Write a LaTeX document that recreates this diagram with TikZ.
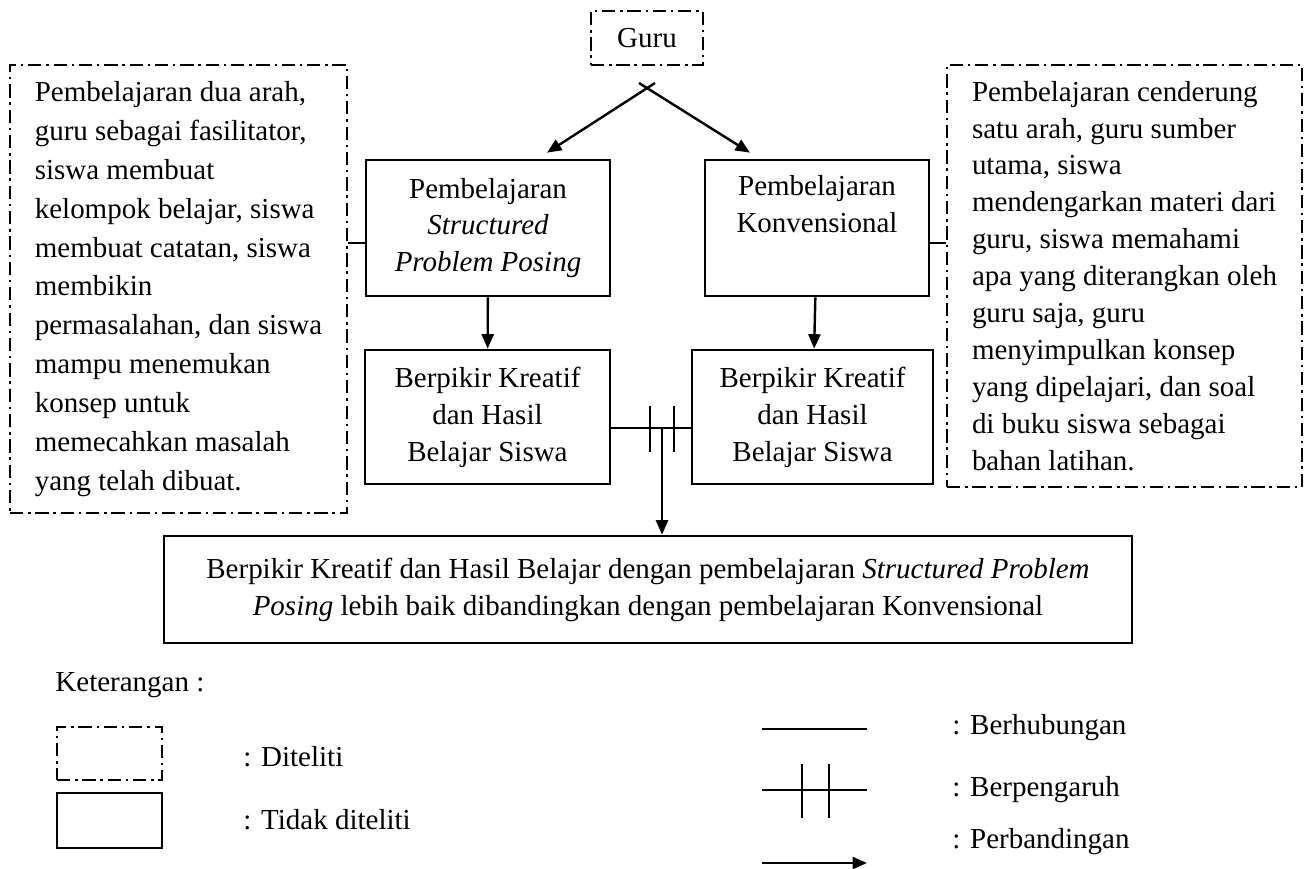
\documentclass[tikz,border=0pt]{standalone}
\usepackage{fontspec}
\setmainfont{Liberation Serif}
\usetikzlibrary{arrows.meta}

\def\px{0.414pt}

\begin{document}
\begin{tikzpicture}[x=\px, y=-\px,
  font=\fontsize{12pt}{15.3pt}\selectfont,
  diteliti/.style={draw, line width=1pt, dash pattern=on 5.5pt off 2pt on 1pt off 2pt, inner sep=0pt},
  tdkditeliti/.style={draw, line width=1.1pt, inner sep=0pt, align=center},
  garis/.style={line width=1pt},
  panah/.style={-{Triangle[length=6pt,width=5pt]}, line width=1pt}]
\useasboundingbox (0,0) rectangle (1312,869);

% kotak atas
\node [diteliti, minimum width=112*\px, minimum height=54*\px] (guru) at (647,38) {Guru};
\coordinate (cabang) at (647,88);

\node [tdkditeliti, minimum width=244*\px, minimum height=136*\px] (spp) at (488,228) {Pembelajaran\\ \textit{Structured}\\ \textit{Problem Posing}};
\node [tdkditeliti, minimum width=224*\px, minimum height=136*\px] (konv) at (817,228) {Pembelajaran\\ Konvensional\\ \strut};
\node [tdkditeliti, minimum width=245*\px, minimum height=134*\px] (bk1) at (487.5,417) {Berpikir Kreatif\\ dan Hasil\\ Belajar Siswa};
\node [tdkditeliti, minimum width=241*\px, minimum height=134*\px] (bk2) at (812.5,417) {Berpikir Kreatif\\ dan Hasil\\ Belajar Siswa};

% kotak samping
\node [diteliti, align=left, font=\fontsize{12pt}{16.1pt}\selectfont, minimum width=337*\px, minimum height=448*\px] (kiri) at (178.5,289) {Pembelajaran dua arah,\\ guru sebagai fasilitator,\\ siswa membuat\\ kelompok belajar, siswa\\ membuat catatan, siswa\\ membikin\\ permasalahan, dan siswa\\ mampu menemukan\\ konsep untuk\\ memecahkan masalah\\ yang telah dibuat.};
\node [diteliti, align=left, minimum width=355*\px, minimum height=422*\px] (kanan) at (1124.5,276) {Pembelajaran cenderung\\ satu arah, guru sumber\\ utama, siswa\\ mendengarkan materi dari\\ guru, siswa memahami\\ apa yang diterangkan oleh\\ guru saja, guru\\ menyimpulkan konsep\\ yang dipelajari, dan soal\\ di buku siswa sebagai\\ bahan latihan.};

\node [tdkditeliti, minimum width=968*\px, minimum height=107*\px] (hasil) at (648,589.5) {Berpikir Kreatif dan Hasil Belajar dengan pembelajaran \textit{Structured Problem}\\ \textit{Posing} lebih baik dibandingkan dengan pembelajaran Konvensional};

% panah
\draw [panah] ([xshift=8*\px, yshift=5*\px]cabang) -- ([xshift=59*\px, yshift=6*\px]spp.north);
\draw [panah] ([xshift=-8*\px, yshift=5*\px]cabang) -- ([xshift=-67*\px, yshift=6*\px]konv.north);
\draw [panah] (spp) -- (bk1);
\draw [panah] (konv) -- (bk2);

% hubungan
\draw [garis] (kiri.east |- 0,243) -- (spp.west |- 0,243);
\draw [garis] (konv.east |- 0,243) -- (kanan.west |- 0,243);
\draw [garis] (bk1.east |- 0,428) -- (bk2.west |- 0,428);
\foreach \x in {650,674}
  \draw [garis] (\x,406) -- (\x,452);
\coordinate (temu) at (662,428);
\draw [panah] (temu) -- (hasil.north -| temu);

% keterangan
\node [anchor=west, inner sep=0pt] (ket) at (55,685) {Keterangan :};
\node [diteliti, minimum width=105*\px, minimum height=53*\px] (lgdA) at (109.5,753.5) {};
\node [tdkditeliti, minimum width=105*\px, minimum height=55*\px] (lgdB) at (109.5,820.5) {};
\node [anchor=west, inner sep=0pt] (ketA) at (243,757) {: Diteliti};
\node [anchor=west, inner sep=0pt] (ketB) at (243,820) {: Tidak diteliti};

\draw [garis] (762,729) -- (867,729);
\draw [garis] (762,790) -- (867,790);
\foreach \x in {802,829}
  \draw [garis] (\x,764) -- (\x,818);
\draw [panah] (762,863) -- (867,863);
\node [anchor=west, inner sep=0pt] (ketC) at (952,728) {: Berhubungan};
\node [anchor=west, inner sep=0pt] (ketD) at (952,790) {: Berpengaruh};
\node [anchor=west, inner sep=0pt] (ketE) at (952,842) {: Perbandingan};
\end{tikzpicture}
\end{document}
